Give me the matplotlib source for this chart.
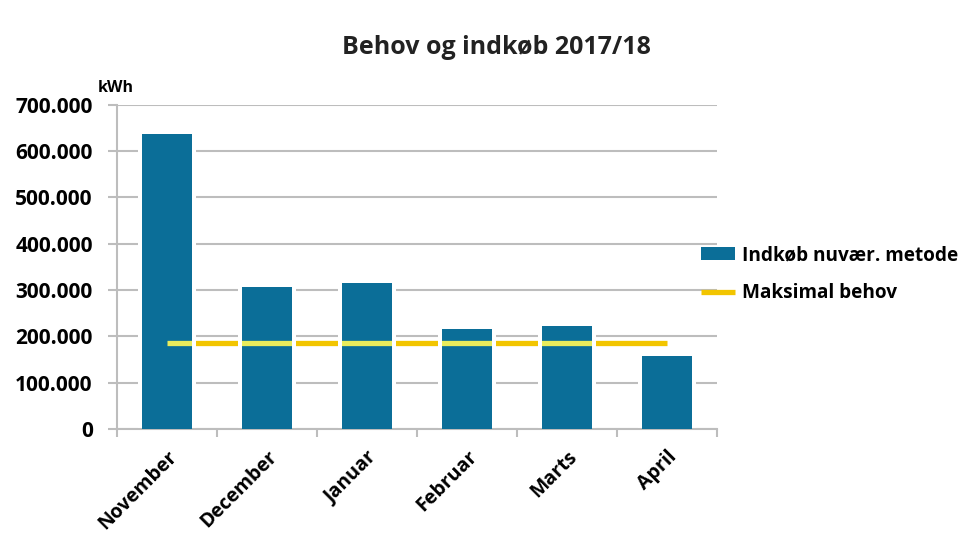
import matplotlib.pyplot as plt
import numpy as np
from matplotlib.ticker import FuncFormatter, FixedLocator

months = ['November', 'December', 'Januar', 'Februar', 'Marts', 'April']
indkoeb = [637000, 306000, 315000, 216000, 222000, 158000]
maks_behov = [186000, 186000, 186000, 186000, 186000, 186000]

plt.rcParams['font.family'] = ['Open Sans', 'DejaVu Sans']

bar_color = '#0b6e98'
line_color = '#f2c500'
line_light = '#e9ec5c'
grid_color = '#bdbdbd'

fig = plt.figure(figsize=(9.69, 5.35), dpi=100)
ax = fig.add_axes([0.1207, 0.198, 0.619, 0.606])

x = np.arange(len(months))
# white halo behind bars -> small gaps in grid and line next to the bars
ax.bar(x, indkoeb, width=0.58, color='white', zorder=2)
bars = ax.bar(x, indkoeb, width=0.5, color=bar_color, zorder=3)
line, = ax.plot(x, maks_behov, color=line_color, lw=3.8, zorder=1.5,
                solid_capstyle='butt')
# lighter yellow where the line crosses a bar
for b in bars:
    l2, = ax.plot(x, maks_behov, color=line_light, lw=3.8, zorder=4,
                  solid_capstyle='butt')
    l2.set_clip_path(b)

ax.set_xlim(-0.5, 5.5)
ax.set_ylim(0, 700000)
ax.yaxis.set_major_locator(FixedLocator(np.arange(0, 700001, 100000)))
ax.yaxis.set_major_formatter(FuncFormatter(lambda v, p: f'{int(v):,}'.replace(',', '.')))
ax.grid(axis='y', color=grid_color, lw=1.5, zorder=0)

ax.set_xticks(x)
ax.set_xticklabels(months, rotation=45, ha='right', rotation_mode='anchor',
                   fontsize=14, fontweight='bold')
ax.set_xticks(np.arange(-0.5, 5.6, 1.0), minor=True)
ax.tick_params(axis='x', which='major', length=0, pad=13)
ax.tick_params(axis='x', which='minor', length=6, color=grid_color, width=1.5)
ax.tick_params(axis='y', length=6.5, color=grid_color, width=1.5, labelsize=15, pad=11)
for lbl in ax.get_yticklabels():
    lbl.set_fontweight('bold')

for side in ['top', 'right']:
    ax.spines[side].set_visible(False)
for side in ['left', 'bottom']:
    ax.spines[side].set_color(grid_color)
    ax.spines[side].set_linewidth(1.5)

fig.text(0.512, 0.912, 'Behov og indkøb 2017/18', ha='center', va='center',
         fontsize=18, fontweight='bold', color='#222222')
fig.text(0.101, 0.836, 'kWh', ha='left', va='center', fontsize=11.5, fontweight='bold')

fig.legend([bars, line], ['Indkøb nuvær. metode', 'Maksimal behov'],
           loc='center left', bbox_to_anchor=(0.706, 0.487), frameon=False,
           prop={'size': 13.7, 'weight': 'bold'}, handlelength=1.75,
           handletextpad=0.4, labelspacing=0.95)

fig.savefig('out.png', dpi=100)
